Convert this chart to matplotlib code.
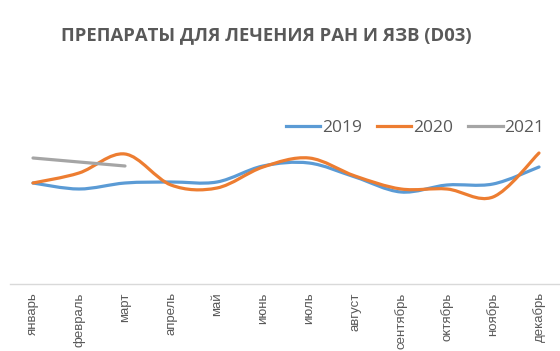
import numpy as np
import matplotlib.pyplot as plt
from matplotlib.path import Path
from matplotlib.patches import PathPatch
from matplotlib.lines import Line2D

months = ['январь', 'февраль', 'март', 'апрель', 'май', 'июнь',
          'июль', 'август', 'сентябрь', 'октябрь', 'ноябрь', 'декабрь']
y2019 = [101, 95, 101, 102, 102, 118, 121, 107, 92, 99, 100, 117]
y2020 = [101, 111, 130, 99, 96, 117, 126, 108, 95, 95, 87, 131]
y2021 = [126, 122, 118]

colors = {'2019': '#5B9BD5', '2020': '#ED7D31', '2021': '#A5A5A5'}
text_gray = '#595959'


def smooth_path(xs, ys):
    # cubic bezier through the points, Excel-style smoothing
    p = np.column_stack([xs, ys]).astype(float)
    n = len(p)
    verts = [p[0]]
    codes = [Path.MOVETO]
    for i in range(n - 1):
        p0 = p[i - 1] if i > 0 else p[i]
        p3 = p[i + 2] if i + 2 < n else p[i + 1]
        c1 = p[i] + (p[i + 1] - p0) / 6
        c2 = p[i + 1] - (p3 - p[i]) / 6
        verts += [c1, c2, p[i + 1]]
        codes += [Path.CURVE4] * 3
    return Path(verts, codes)


fig = plt.figure(figsize=(5.6, 3.51), dpi=100)
ax = fig.add_axes([10 / 560, 1 - 284 / 351, 552 / 560, 174 / 351])

x = np.arange(len(months))
for name, vals in [('2019', y2019), ('2020', y2020), ('2021', y2021)]:
    patch = PathPatch(smooth_path(x[:len(vals)], vals), facecolor='none',
                      edgecolor=colors[name], lw=2.3, capstyle='round')
    ax.add_patch(patch)

ax.set_xlim(-0.5, 11.5)
ax.set_ylim(0, 174)
ax.set_xticks(x)
ax.set_xticklabels(months, rotation=90, fontsize=9.5, color=text_gray,
                   family='Liberation Sans')
ax.set_yticks([])
ax.tick_params(axis='x', length=0, pad=6)
for s in ['top', 'right', 'left']:
    ax.spines[s].set_visible(False)
ax.spines['bottom'].set_color('#D9D9D9')
ax.spines['bottom'].set_linewidth(1)

handles = [Line2D([], [], color=colors[k], lw=2.3) for k in colors]
fig.legend(handles, list(colors), loc='center', bbox_to_anchor=(415 / 560, 1 - 128 / 351),
           ncol=3, frameon=False, handlelength=2.0, handletextpad=0.1,
           columnspacing=0.85, borderpad=0, prop={'family': 'Open Sans', 'size': 12.5},
           labelcolor=text_gray)

fig.text(266 / 560, 1 - 35 / 351, 'ПРЕПАРАТЫ ДЛЯ ЛЕЧЕНИЯ РАН И ЯЗВ (D03)',
         ha='center', va='center', fontsize=13.3, fontweight='bold',
         color=text_gray, family='Open Sans')

fig.savefig('out.png', dpi=100)
